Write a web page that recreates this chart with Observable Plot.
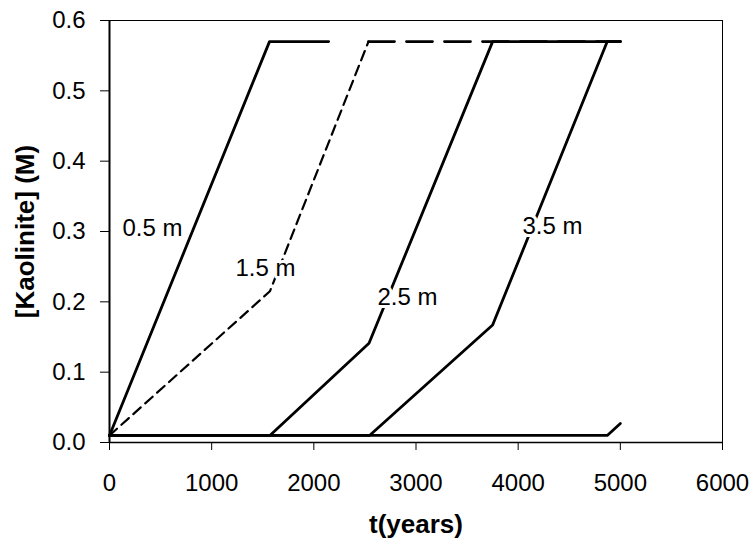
<!DOCTYPE html>
<html>
<head>
<meta charset="utf-8">
<script src="https://cdn.jsdelivr.net/npm/d3@7"></script>
<script src="https://cdn.jsdelivr.net/npm/@observablehq/plot@0.6"></script>
<style>
  body { margin: 0; background: #fff; }
</style>
</head>
<body>
<div id="chart"></div>
<script>
// Kaolinite concentration (M) against time (years) at several depths.
const xTicks = [0, 1000, 2000, 3000, 4000, 5000, 6000];
const yTicks = [0, 0.1, 0.2, 0.3, 0.4, 0.5, 0.6];
const xTitle = "t(years)";
const yTitle = "[Kaolinite] (M)";

// 0.5 m
const t05 = [0, 1566, 2145];
const k05 = [0.01, 0.57, 0.57];
// 1.5 m (dashed)
const t15 = [0, 1570, 2535, 5000];
const k15 = [0.01, 0.215, 0.57, 0.57];
// 2.5 m
const t25 = [0, 1570, 2540, 3750, 5000];
const k25 = [0.01, 0.01, 0.141, 0.57, 0.57];
// 3.5 m
const t35 = [0, 2545, 3750, 4872, 5000];
const k35 = [0.01, 0.01, 0.167, 0.57, 0.57];
// deepest node: only starts to rise at the very end of the run
const tDeep = [0, 4872, 5000];
const kDeep = [0.01, 0.01, 0.027];

// curve labels
const labelText = ["0.5 m", "1.5 m", "2.5 m", "3.5 m"];
const labelT = [421, 1527, 2917, 4336];
const labelK = [0.305, 0.247, 0.207, 0.307];

const rows = (t, k) => t.map((x, i) => ({t: x, k: k[i]}));
const labels = labelText.map((s, i) => ({text: s, t: labelT[i], k: labelK[i]}));

const d15 = rows(t15, k15);
const lineOpts = {x: "t", y: "k", stroke: "black", strokeWidth: 2.8, strokeLinejoin: "round"};

const chart = Plot.plot({
  width: 755,
  height: 546,
  marginLeft: 109,
  marginRight: 33,
  marginTop: 20,
  marginBottom: 104,
  style: {fontFamily: "'Liberation Sans', Arial, sans-serif", color: "black", background: "white"},
  x: {domain: [0, 6000]},
  y: {domain: [0, 0.6]},
  marks: [
    Plot.frame({stroke: "black", strokeWidth: 1}),
    Plot.axisX({ticks: xTicks, tickSize: 8, tickPadding: 23, fontSize: 24, label: null, tickFormat: d => String(d)}),
    Plot.axisY({ticks: yTicks, tickSize: 9, tickPadding: 15, fontSize: 24, label: null, tickFormat: d => d.toFixed(1)}),
    Plot.ruleX([0], {stroke: "black", strokeWidth: 2}),
    Plot.ruleY([0], {stroke: "black", strokeWidth: 1.5}),
    // 1.5 m: rising part with short dashes, plateau with longer dashes
    Plot.line(d15.slice(0, 3), {...lineOpts, strokeWidth: 2.2, strokeDasharray: "10,6"}),
    Plot.line(d15.slice(2), {...lineOpts, strokeWidth: 2.8, strokeDasharray: "26,12"}),
    Plot.line(rows(tDeep, kDeep), lineOpts),
    Plot.line(rows(t35, k35), lineOpts),
    Plot.line(rows(t25, k25), lineOpts),
    Plot.line(rows(t05, k05), lineOpts),
    Plot.text(labels, {x: "t", y: "k", text: "text", fontSize: 24, fill: "black", stroke: "white", strokeWidth: 6, paintOrder: "stroke"}),
    Plot.text([xTitle], {text: d => d, frameAnchor: "bottom", lineAnchor: "middle", textAnchor: "middle", dy: 82, fontSize: 26, fontWeight: "bold", fill: "black"}),
    Plot.text([yTitle], {text: d => d, frameAnchor: "left", lineAnchor: "middle", textAnchor: "middle", dx: -84, rotate: -90, fontSize: 26, fontWeight: "bold", fill: "black"})
  ]
});

document.getElementById("chart").append(chart);
</script>
</body>
</html>
